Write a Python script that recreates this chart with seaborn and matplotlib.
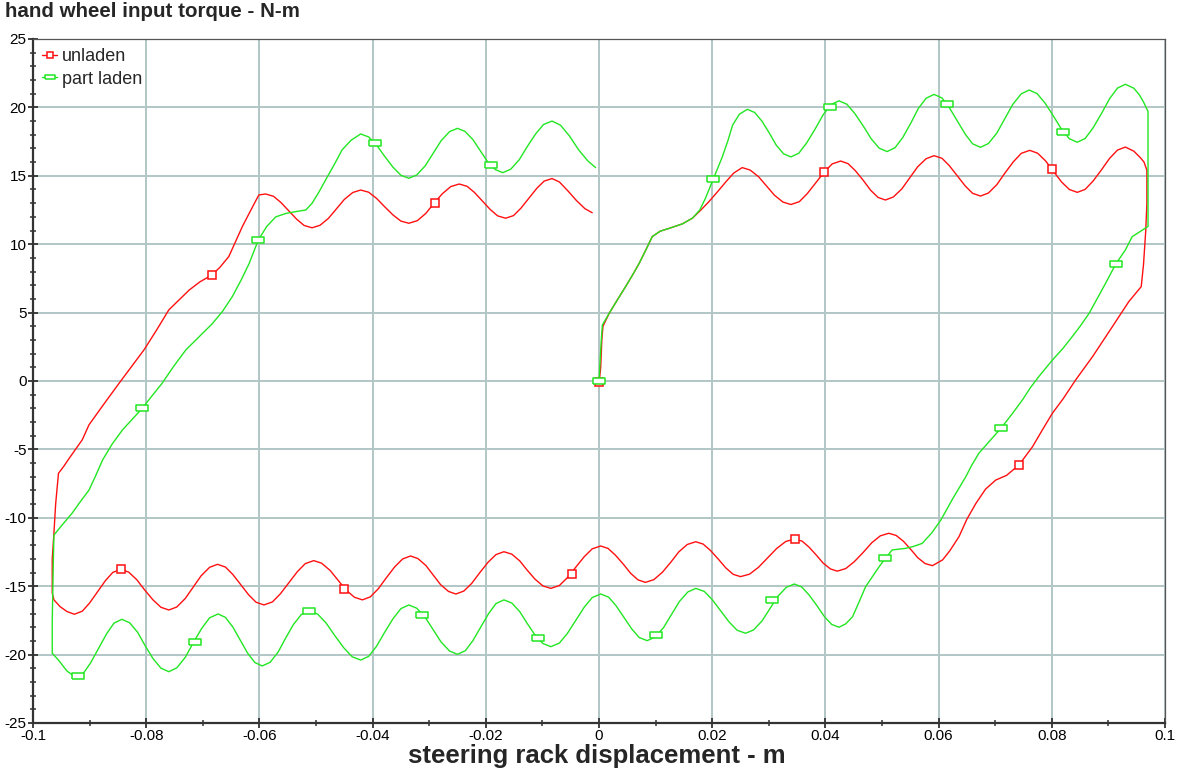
import matplotlib
matplotlib.use("Agg")
import matplotlib.pyplot as plt
from matplotlib.lines import Line2D
from matplotlib.ticker import MultipleLocator, FixedLocator
import numpy as np
import pandas as pd
import seaborn as sns

# ---------------- data ----------------
unladen_x = [
    0.0000, 0.0003, 0.0005, 0.0007, 0.0018, 0.0032, 0.0047, 0.0060, 0.0071, 0.0083, 0.0094, 0.0108,
    0.0124, 0.0147, 0.0165, 0.0180, 0.0194, 0.0212, 0.0225, 0.0238, 0.0253,
    0.0267, 0.0282, 0.0296, 0.0310, 0.0325, 0.0339,
    0.0354, 0.0368, 0.0383, 0.0398, 0.0412, 0.0427,
    0.0440, 0.0453, 0.0467, 0.0480, 0.0493, 0.0506,
    0.0520, 0.0535, 0.0549, 0.0563, 0.0578, 0.0592,
    0.0606, 0.0619, 0.0633, 0.0647, 0.0660, 0.0674,
    0.0688, 0.0703, 0.0717, 0.0732, 0.0746, 0.0761,
    0.0775, 0.0789, 0.0803, 0.0817, 0.0831, 0.0845,
    0.0859, 0.0873, 0.0888, 0.0902, 0.0916, 0.0930,
    0.0945, 0.0957, 0.0963, 0.0968, 0.0968, 0.0966, 0.0962, 0.0958,
    0.0936, 0.0907, 0.0872, 0.0842, 0.0820, 0.0801, 0.0783, 0.0766, 0.0742, 0.0720, 0.0701, 0.0683,
    0.0666, 0.0650, 0.0636, 0.0620, 0.0607, 0.0589,
    0.0576, 0.0563, 0.0551, 0.0538, 0.0525, 0.0512,
    0.0497, 0.0482, 0.0467, 0.0451, 0.0436, 0.0421,
    0.0409, 0.0396, 0.0384, 0.0371, 0.0359, 0.0346,
    0.0330, 0.0314, 0.0298, 0.0282, 0.0266, 0.0250,
    0.0237, 0.0224, 0.0211, 0.0197, 0.0184, 0.0171,
    0.0156, 0.0141, 0.0127, 0.0112, 0.0097, 0.0082,
    0.0069, 0.0056, 0.0043, 0.0029, 0.0016, 0.0003,
    -0.0012, -0.0026, -0.0041, -0.0056, -0.0070, -0.0085,
    -0.0099, -0.0113, -0.0127, -0.0140, -0.0154, -0.0168,
    -0.0182, -0.0196, -0.0211, -0.0225, -0.0239, -0.0253,
    -0.0266, -0.0280, -0.0293, -0.0306, -0.0320, -0.0333,
    -0.0347, -0.0361, -0.0376, -0.0390, -0.0404, -0.0418,
    -0.0432, -0.0447, -0.0461, -0.0475, -0.0490, -0.0504,
    -0.0519, -0.0533, -0.0548, -0.0563, -0.0577, -0.0592,
    -0.0606, -0.0619, -0.0633, -0.0647, -0.0660, -0.0674,
    -0.0688, -0.0703, -0.0717, -0.0731, -0.0746, -0.0760,
    -0.0774, -0.0788, -0.0803, -0.0817, -0.0831, -0.0845,
    -0.0859, -0.0872, -0.0886, -0.0900, -0.0913, -0.0927,
    -0.0940, -0.0952, -0.0963, -0.0966, -0.0966, -0.0963, -0.0960, -0.0955, -0.0945, -0.0936,
    -0.0925, -0.0913, -0.0901, -0.0875, -0.0848, -0.0826, -0.0804, -0.0782, -0.0760, -0.0740,
    -0.0724, -0.0705, -0.0684, -0.0670, -0.0654, -0.0642, -0.0630, -0.0615, -0.0601, -0.0589,
    -0.0575, -0.0562, -0.0548, -0.0534, -0.0521, -0.0507,
    -0.0493, -0.0478, -0.0464, -0.0450, -0.0435, -0.0421,
    -0.0407, -0.0393, -0.0379, -0.0364, -0.0350, -0.0336,
    -0.0321, -0.0306, -0.0292, -0.0277, -0.0262, -0.0247,
    -0.0233, -0.0220, -0.0206, -0.0192, -0.0179, -0.0165,
    -0.0151, -0.0138, -0.0124, -0.0110, -0.0097, -0.0083,
    -0.0070, -0.0055, -0.0040, -0.0025, -0.0012,
]
unladen_y = [
    -0.2, 1.0, 3.0, 4.0, 4.95, 5.9, 6.9, 7.8, 8.6, 9.6, 10.55, 10.95,
    11.16, 11.48, 11.9, 12.5, 13.1, 13.96, 14.6, 15.2, 15.6,
    15.42, 14.93, 14.25, 13.58, 13.08, 12.9,
    13.11, 13.70, 14.49, 15.28, 15.87, 16.08,
    15.89, 15.37, 14.66, 13.94, 13.42, 13.23,
    13.45, 14.04, 14.85, 15.66, 16.25, 16.47,
    16.28, 15.74, 15.0, 14.26, 13.72, 13.52,
    13.74, 14.36, 15.19, 16.02, 16.64, 16.86,
    16.65, 16.09, 15.33, 14.56, 14.0, 13.79,
    14.01, 14.62, 15.45, 16.27, 16.88, 17.1,
    16.8, 16.3, 16.0, 15.4, 13.0, 11.0, 8.5, 6.9,
    5.8, 3.97, 1.78, 0.07, -1.3, -2.36, -3.6, -4.8, -6.14, -6.9, -7.24, -7.9,
    -8.94, -10.1, -11.38, -12.4, -13.08, -13.5,
    -13.34, -12.91, -12.32, -11.72, -11.29, -11.13,
    -11.32, -11.82, -12.52, -13.21, -13.71, -13.9,
    -13.74, -13.31, -12.73, -12.14, -11.71, -11.55,
    -11.73, -12.24, -12.93, -13.61, -14.12, -14.3,
    -14.13, -13.66, -13.03, -12.39, -11.92, -11.75,
    -11.95, -12.49, -13.24, -13.98, -14.52, -14.72,
    -14.54, -14.06, -13.39, -12.73, -12.24, -12.06,
    -12.27, -12.84, -13.61, -14.38, -14.95, -15.16,
    -14.98, -14.49, -13.82, -13.15, -12.66, -12.48,
    -12.69, -13.25, -14.03, -14.8, -15.36, -15.57,
    -15.38, -14.88, -14.18, -13.48, -12.98, -12.79,
    -13.01, -13.59, -14.4, -15.19, -15.78, -16.0,
    -15.81, -15.28, -14.57, -13.85, -13.32, -13.13,
    -13.35, -13.94, -14.75, -15.56, -16.15, -16.37,
    -16.17, -15.63, -14.89, -14.14, -13.6, -13.4,
    -13.62, -14.24, -15.07, -15.9, -16.52, -16.74,
    -16.54, -16.0, -15.26, -14.51, -13.97, -13.77,
    -13.99, -14.59, -15.41, -16.23, -16.83, -17.05,
    -16.85, -16.5, -16.0, -15.5, -13.0, -11.1, -9.0, -6.75, -6.2, -5.65,
    -5.0, -4.3, -3.2, -1.7, -0.17, 1.05, 2.27, 3.7, 5.2, 6.0,
    6.65, 7.25, 7.75, 8.3, 9.1, 10.2, 11.3, 12.5, 13.6, 13.67,
    13.5, 13.05, 12.44, 11.82, 11.37, 11.2,
    11.38, 11.89, 12.58, 13.27, 13.78, 13.96,
    13.8, 13.35, 12.75, 12.14, 11.69, 11.53,
    11.72, 12.25, 12.97, 13.68, 14.21, 14.4,
    14.23, 13.78, 13.15, 12.53, 12.07, 11.9,
    12.09, 12.63, 13.35, 14.08, 14.61, 14.8,
    14.55, 13.9, 13.2, 12.6, 12.3,
]

part_laden_x = [
    0.0000, 0.0002, 0.0004, 0.0006, 0.0018, 0.0032, 0.0047, 0.0060, 0.0071, 0.0083, 0.0094, 0.0108,
    0.0124, 0.0147, 0.0165, 0.0178, 0.0188, 0.0202, 0.0210, 0.0218, 0.0228, 0.0236, 0.0248, 0.0262,
    0.0275, 0.0288, 0.0301, 0.0313, 0.0326, 0.0339,
    0.0353, 0.0367, 0.0382, 0.0396, 0.0410, 0.0424,
    0.0438, 0.0452, 0.0467, 0.0481, 0.0495, 0.0509,
    0.0523, 0.0537, 0.0551, 0.0564, 0.0578, 0.0592,
    0.0606, 0.0619, 0.0633, 0.0647, 0.0660, 0.0674,
    0.0688, 0.0703, 0.0717, 0.0731, 0.0746, 0.0760,
    0.0774, 0.0788, 0.0803, 0.0817, 0.0831, 0.0845,
    0.0859, 0.0873, 0.0888, 0.0902, 0.0916, 0.0930,
    0.0945, 0.0955, 0.0962, 0.0970, 0.0970, 0.0970, 0.0955, 0.0942, 0.0930, 0.0913, 0.0895, 0.0880,
    0.0866, 0.0850, 0.0836, 0.0820, 0.0801, 0.0777, 0.0762, 0.0748, 0.0730, 0.0710, 0.0690, 0.0671,
    0.0658, 0.0648, 0.0625, 0.0604, 0.0588, 0.0571, 0.0555, 0.0542, 0.0518, 0.0506, 0.0495, 0.0483,
    0.0471, 0.0460, 0.0448, 0.0436, 0.0424,
    0.0411, 0.0398, 0.0385, 0.0371, 0.0358, 0.0345,
    0.0331, 0.0316, 0.0302, 0.0288, 0.0273, 0.0259,
    0.0244, 0.0230, 0.0215, 0.0200, 0.0186, 0.0171,
    0.0157, 0.0142, 0.0128, 0.0114, 0.0099, 0.0085,
    0.0071, 0.0058, 0.0044, 0.0030, 0.0017, 0.0003,
    -0.0012, -0.0026, -0.0041, -0.0056, -0.0070, -0.0085,
    -0.0099, -0.0113, -0.0127, -0.0140, -0.0154, -0.0168,
    -0.0182, -0.0195, -0.0209, -0.0223, -0.0236, -0.0250,
    -0.0264, -0.0279, -0.0293, -0.0307, -0.0322, -0.0336,
    -0.0350, -0.0364, -0.0379, -0.0393, -0.0407, -0.0421,
    -0.0436, -0.0451, -0.0467, -0.0482, -0.0497, -0.0512,
    -0.0526, -0.0540, -0.0554, -0.0567, -0.0581, -0.0595,
    -0.0608, -0.0621, -0.0634, -0.0647, -0.0660, -0.0673,
    -0.0688, -0.0702, -0.0717, -0.0731, -0.0746, -0.0760,
    -0.0774, -0.0788, -0.0802, -0.0815, -0.0829, -0.0843,
    -0.0857, -0.0870, -0.0884, -0.0898, -0.0911, -0.0925,
    -0.0940, -0.0955, -0.0966, -0.0966, -0.0964, -0.0963, -0.0948, -0.0931, -0.0916, -0.0901,
    -0.0889, -0.0877, -0.0860, -0.0842, -0.0807, -0.0790, -0.0772, -0.0751, -0.0730, -0.0705,
    -0.0683, -0.0665, -0.0648, -0.0632, -0.0618, -0.0602, -0.0587, -0.0571, -0.0553, -0.0536,
    -0.0518, -0.0507, -0.0495, -0.0483, -0.0468, -0.0454, -0.0438, -0.0421,
    -0.0407, -0.0393, -0.0379, -0.0364, -0.0350, -0.0336,
    -0.0322, -0.0307, -0.0293, -0.0279, -0.0264, -0.0250,
    -0.0237, -0.0223, -0.0210, -0.0197, -0.0183, -0.0170,
    -0.0156, -0.0141, -0.0127, -0.0112, -0.0098, -0.0083,
    -0.0068, -0.0052, -0.0036, -0.0020, -0.0006,
]
part_laden_y = [
    0.0, 1.5, 3.0, 4.1, 4.95, 5.9, 6.9, 7.8, 8.6, 9.6, 10.55, 10.95,
    11.16, 11.48, 11.9, 12.5, 13.35, 14.77, 15.6, 16.4, 17.6, 18.7, 19.5, 19.86,
    19.63, 18.99, 18.12, 17.25, 16.61, 16.38,
    16.65, 17.41, 18.43, 19.46, 20.21, 20.48,
    20.23, 19.55, 18.63, 17.7, 17.02, 16.77,
    17.05, 17.82, 18.86, 19.91, 20.67, 20.95,
    20.69, 19.98, 19.02, 18.05, 17.34, 17.08,
    17.36, 18.13, 19.18, 20.22, 20.99, 21.27,
    21.01, 20.32, 19.36, 18.41, 17.71, 17.45,
    17.73, 18.51, 19.57, 20.63, 21.41, 21.69,
    21.4, 20.9, 20.4, 19.7, 15.0, 11.3, 10.9, 10.55, 9.58, 8.55, 7.14, 6.0,
    4.95, 4.0, 3.24, 2.4, 1.53, 0.32, -0.5, -1.39, -2.4, -3.46, -4.4, -5.29,
    -6.2, -7.0, -8.6, -10.16, -11.1, -11.87, -12.1, -12.23, -12.35, -12.96, -13.57, -14.3,
    -15.04, -16.1, -17.23, -17.75, -18.0,
    -17.79, -17.21, -16.42, -15.63, -15.05, -14.84,
    -15.08, -15.74, -16.64, -17.54, -18.2, -18.44,
    -18.22, -17.62, -16.8, -15.98, -15.38, -15.16,
    -15.42, -16.12, -17.07, -18.03, -18.72, -18.98,
    -18.75, -18.13, -17.28, -16.42, -15.8, -15.57,
    -15.83, -16.53, -17.5, -18.46, -19.16, -19.42,
    -19.19, -18.57, -17.71, -16.86, -16.23, -16.0,
    -16.27, -17.0, -17.99, -18.99, -19.71, -19.98,
    -19.74, -19.08, -18.18, -17.28, -16.61, -16.37,
    -16.64, -17.38, -18.39, -19.39, -20.13, -20.4,
    -20.16, -19.5, -18.6, -17.7, -17.04, -16.8,
    -17.07, -17.81, -18.82, -19.82, -20.56, -20.83,
    -20.58, -19.88, -18.93, -17.98, -17.28, -17.03,
    -17.31, -18.09, -19.14, -20.2, -20.97, -21.25,
    -20.99, -20.29, -19.34, -18.38, -17.68, -17.42,
    -17.7, -18.48, -19.54, -20.59, -21.37, -21.65,
    -21.2, -20.4, -19.9, -17.6, -13.0, -11.26, -10.5, -9.67, -8.8, -7.97,
    -6.9, -5.77, -4.6, -3.58, -2.0, -1.1, -0.17, 1.1, 2.27, 3.3,
    4.2, 5.1, 6.16, 7.4, 8.6, 10.3, 11.3, 12.0, 12.25, 12.38,
    12.5, 12.99, 13.8, 14.7, 15.8, 16.89, 17.6, 18.06,
    17.84, 17.25, 16.44, 15.63, 15.04, 14.82,
    15.06, 15.73, 16.65, 17.56, 18.23, 18.47,
    18.25, 17.66, 16.85, 16.04, 15.45, 15.23,
    15.48, 16.17, 17.12, 18.06, 18.75, 19.0,
    18.7, 17.9, 16.9, 16.1, 15.6,
]

unladen_marker_x = [0.0, -0.0684, -0.029, 0.0397, 0.0801, 0.0742, 0.0346, -0.0048, -0.045, -0.0845]
unladen_marker_y = [-0.1, 7.75, 13.0, 15.25, 15.5, -6.14, -11.55, -14.13, -15.2, -13.77]
part_laden_marker_x = [0.0, 0.0202, 0.0408, 0.0614, 0.082, 0.0913, 0.071, 0.0506, 0.0306, 0.01,
                       -0.0107, -0.0312, -0.0512, -0.0714, -0.092, -0.0807, -0.0602, -0.0395, -0.019]
part_laden_marker_y = [0.0, 14.77, 20.05, 20.25, 18.22, 8.55, -3.46, -12.96, -16.0, -18.6,
                       -18.8, -17.08, -16.8, -19.06, -21.6, -2.0, 10.3, 17.37, 15.79]

series_names = ["unladen", "part laden"]
x_ticks = [-0.1, -0.08, -0.06, -0.04, -0.02, 0, 0.02, 0.04, 0.06, 0.08, 0.1]
x_tick_labels = ["-0.1", "-0.08", "-0.06", "-0.04", "-0.02", "0", "0.02", "0.04", "0.06", "0.08", "0.1"]
y_ticks = [-25, -20, -15, -10, -5, 0, 5, 10, 15, 20, 25]
y_tick_labels = ["-25", "-20", "-15", "-10", "-5", "0", "5", "10", "15", "20", "25"]

# ---------------- styling ----------------
sns.set_style("white")
plt.rcParams["font.family"] = ["Liberation Sans", "DejaVu Sans"]

RED = "#ff1010"
GREEN = "#22e622"
GRID = "#b2c6c6"

fig = plt.figure(figsize=(11.83, 7.71), dpi=100)
ax = fig.add_axes([33 / 1183, 1 - 723 / 771, (1165 - 33) / 1183, (723 - 39) / 771])

df_u = pd.DataFrame({"x": unladen_x, "y": unladen_y, "order": np.arange(len(unladen_x))})
df_p = pd.DataFrame({"x": part_laden_x, "y": part_laden_y, "order": np.arange(len(part_laden_x))})

sns.lineplot(data=df_u, x="x", y="y", sort=False, estimator=None, color=RED, lw=1.0, ax=ax, zorder=3)
sns.lineplot(data=df_p, x="x", y="y", sort=False, estimator=None, color=GREEN, lw=1.0, ax=ax, zorder=4)

rect_marker = [(-2, -1), (2, -1), (2, 1), (-2, 1), (-2, -1)]
ax.plot(unladen_marker_x, unladen_marker_y, ls="none", marker="s", ms=5.4, mfc="white",
        mec=RED, mew=1.1, zorder=5)
ax.plot(part_laden_marker_x, part_laden_marker_y, ls="none", marker=rect_marker, ms=8.5, mfc="white",
        mec=GREEN, mew=1.1, zorder=6)

ax.set_xlim(-0.1, 0.1)
ax.set_ylim(-25, 25)
ax.xaxis.set_major_locator(FixedLocator(x_ticks))
ax.set_xticklabels(x_tick_labels)
ax.yaxis.set_major_locator(FixedLocator(y_ticks))
ax.set_yticklabels(y_tick_labels)
ax.xaxis.set_minor_locator(MultipleLocator(0.01))
ax.yaxis.set_minor_locator(MultipleLocator(1))
ax.set_xlabel("")
ax.set_ylabel("")

ax.grid(True, which="major", color=GRID, lw=1.4, zorder=0)
ax.set_axisbelow(True)

ax.tick_params(axis="both", which="major", direction="inout", length=7, width=1.3,
               colors="#333333", labelcolor="black", labelsize=11, pad=1)
ax.tick_params(axis="both", which="minor", direction="inout", length=4.5, width=1.1, colors="#333333")
ax.tick_params(axis="x", which="both", top=False, bottom=True)
ax.tick_params(axis="y", which="both", right=False, left=True)

for side in ["left", "bottom"]:
    ax.spines[side].set_color("#333333")
    ax.spines[side].set_linewidth(1.6)
for side in ["top", "right"]:
    ax.spines[side].set_color("#555555")
    ax.spines[side].set_linewidth(0.9)

handles = [
    Line2D([0], [0], color=RED, lw=1.0, marker="s", ms=5.0, mfc="white", mec=RED, mew=1.1),
    Line2D([0], [0], color=GREEN, lw=1.0, marker=rect_marker, ms=7, mfc="white", mec=GREEN, mew=1.1),
]
ax.legend(handles, series_names, loc="upper left", frameon=False, fontsize=13,
          handlelength=0.8, handletextpad=0.3, labelspacing=0.3,
          borderaxespad=0.12, bbox_to_anchor=(0.0, 1.0))

fig.text(5 / 1183, 1 - 2 / 771, "hand wheel input torque - N-m", ha="left", va="top",
         fontsize=14.8, fontweight="bold")
fig.text(597 / 1183, 1 - 744 / 771, "steering rack displacement - m", ha="center", va="top",
         fontsize=18.5, fontweight="bold")

fig.savefig("out.png", dpi=100)
